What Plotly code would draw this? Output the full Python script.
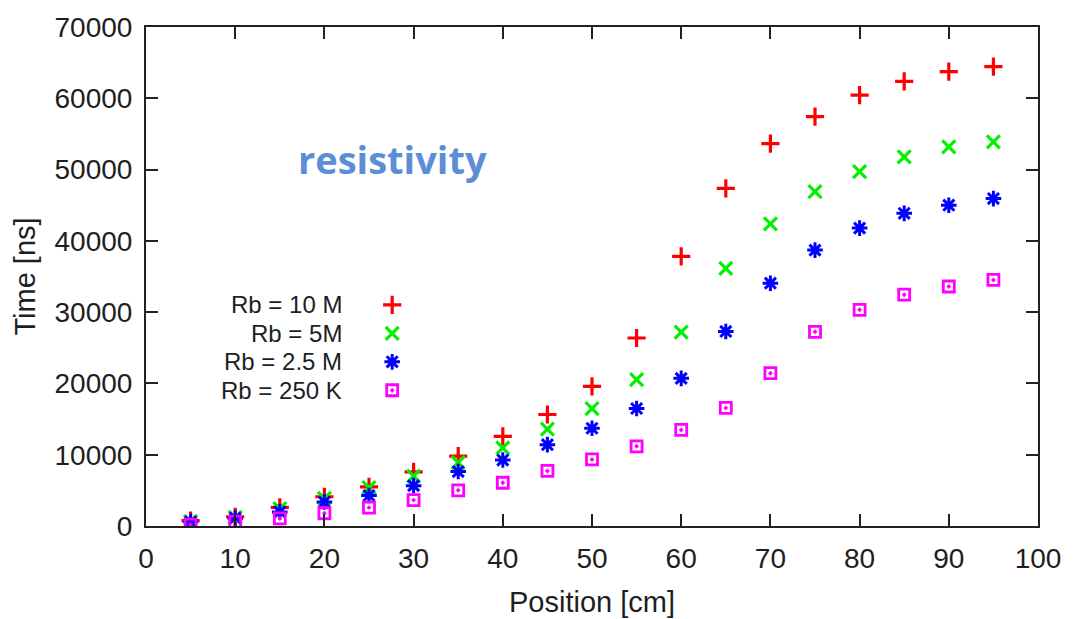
import plotly.graph_objects as go

positions = [5, 10, 15, 20, 25, 30, 35, 40, 45, 50, 55, 60, 65, 70, 75, 80, 85, 90, 95]
rb_10M = [750, 1300, 2600, 4100, 5500, 7600, 9800, 12560, 15640, 19600, 26370, 37830, 47350, 53640, 57440, 60430, 62360, 63740, 64430]
rb_5M = [650, 1200, 2450, 3870, 5400, 7000, 8900, 10950, 13580, 16480, 20530, 27200, 36130, 42390, 46900, 49700, 51780, 53200, 53890]
rb_2_5M = [600, 1100, 1980, 3360, 4280, 5660, 7640, 9250, 11410, 13710, 16480, 20710, 27290, 34060, 38700, 41790, 43860, 45000, 45930]
rb_250K = [200, 600, 1060, 1790, 2580, 3630, 5010, 6070, 7730, 9340, 11180, 13480, 16570, 21440, 27240, 30330, 32450, 33600, 34520]

series_names = ["Rb = 10 M", "Rb = 5M", "Rb = 2.5 M", "Rb = 250 K"]
series_values = [rb_10M, rb_5M, rb_2_5M, rb_250K]
colors = ["#ff0000", "#00f000", "#0000ff", "#ff00ff"]
symbols = ["cross-thin-open", "x-thin-open", "asterisk-open", "square-open-dot"]
sizes = [13, 13, 13, 11]
widths = [3.2, 3.2, 3.0, 2.8]

x_ticks = [0, 10, 20, 30, 40, 50, 60, 70, 80, 90, 100]
y_ticks = [0, 10000, 20000, 30000, 40000, 50000, 60000, 70000]

# key layout (fractions of plot area)
key_x = 0.276
key_y = [0.443, 0.386, 0.329, 0.272]
key_text_x = 0.222

FONT = "Liberation Sans"
TXT = "#1e1e1e"

fig = go.Figure()
for name, vals, c, s, sz, w in zip(series_names, series_values, colors, symbols, sizes, widths):
    fig.add_trace(go.Scatter(
        x=positions, y=vals, mode="markers", name=name, showlegend=False,
        marker=dict(symbol=s, size=sz, color=c, line=dict(color=c, width=w)),
    ))

for i, (name, c, s, sz, w) in enumerate(zip(series_names, colors, symbols, sizes, widths)):
    fig.add_trace(go.Scatter(
        x=[key_x], y=[key_y[i]], xaxis="x2", yaxis="y2", mode="markers", showlegend=False,
        marker=dict(symbol=s, size=sz, color=c, line=dict(color=c, width=w)),
        hoverinfo="skip",
    ))
    fig.add_annotation(x=key_text_x, y=key_y[i], xref="x2", yref="y2", text=name,
                       showarrow=False, xanchor="right", yanchor="middle",
                       font=dict(family=FONT, size=24, color=TXT))

fig.add_annotation(x=0.276, y=0.735, xref="x2", yref="y2", text="<b>resistivity</b>",
                   showarrow=False, xanchor="center", yanchor="middle",
                   font=dict(family="Open Sans", size=38, color="#5b8ed6"))

fig.add_annotation(x=0.5, y=-0.152, xref="paper", yref="paper", text="Position [cm]",
                   showarrow=False, xanchor="center", yanchor="middle",
                   font=dict(family=FONT, size=29, color=TXT))

axis_common = dict(showline=True, linecolor="#222222", linewidth=2, mirror="ticks",
                   ticks="inside", ticklen=12, tickwidth=1.5, tickcolor="#222222",
                   showgrid=False, zeroline=False, ticklabelstandoff=6,
                   tickfont=dict(family=FONT, size=28, color=TXT))

fig.update_layout(
    width=1073, height=619,
    margin=dict(l=146, r=31, t=18, b=93),
    paper_bgcolor="white", plot_bgcolor="white",
    xaxis=dict(range=[0, 100], tickvals=x_ticks, ticktext=[str(v) for v in x_ticks],
               **axis_common),
    yaxis=dict(range=[0, 70000], tickvals=y_ticks, ticktext=[str(v) for v in y_ticks],
               title=dict(text="Time [ns]", standoff=10,
                          font=dict(family=FONT, size=29, color=TXT)),
               **axis_common),
    xaxis2=dict(range=[0, 1], overlaying="x", visible=False),
    yaxis2=dict(range=[0, 1], overlaying="y", visible=False),
    showlegend=False,
)

fig.write_html("out.html")
